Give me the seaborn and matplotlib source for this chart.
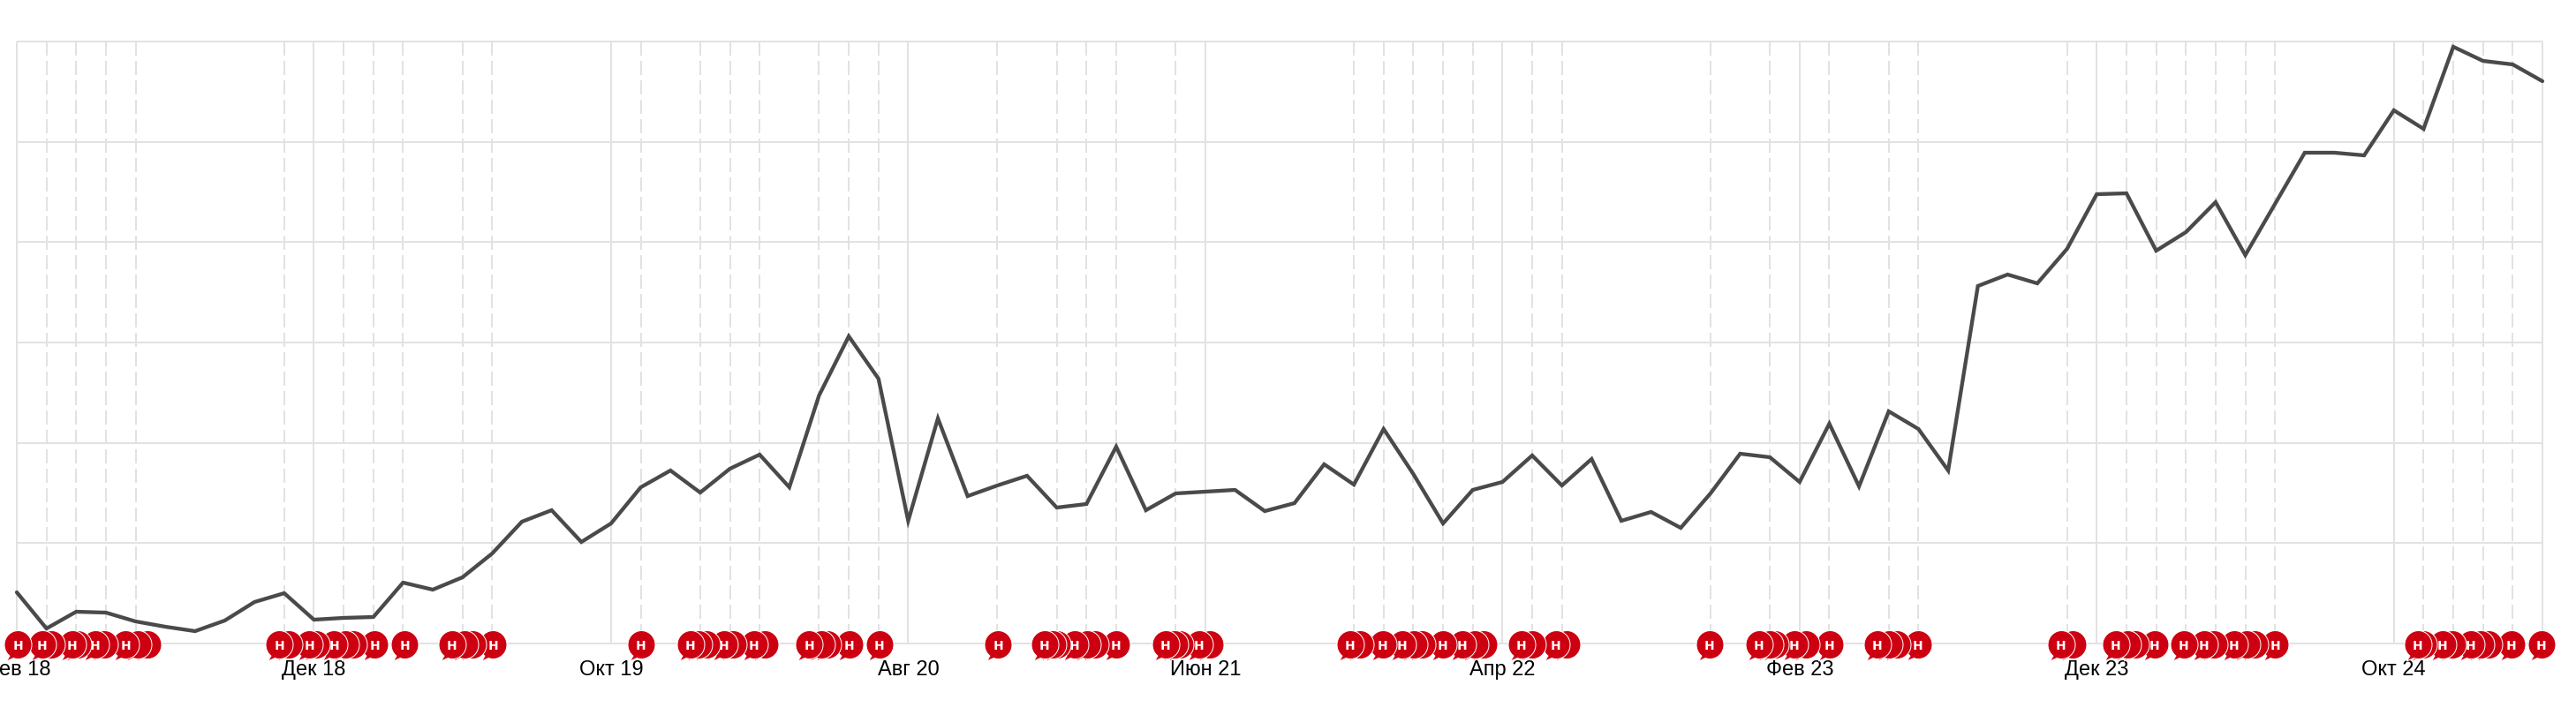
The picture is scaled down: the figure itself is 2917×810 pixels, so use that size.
import numpy as np
import pandas as pd
import matplotlib
matplotlib.use("Agg")
import matplotlib.pyplot as plt
from matplotlib.path import Path
import seaborn as sns

# monthly series (month index 0 = Feb 2018), height above the baseline
series_values = [58, 17, 36, 35, 25, 19, 14, 26, 47, 57, 27, 29, 30, 69, 61, 75, 102, 138, 151, 115,
                 136, 177, 196, 171, 198, 214, 177, 281, 348, 300, 139, 255, 167, 179, 190, 154, 158, 223, 151, 170,
                 172, 174, 150, 159, 203, 180, 243, 192, 136, 174, 183, 213, 179, 209, 139, 149, 131, 170, 215, 211,
                 183, 249, 178, 263, 243, 196, 405, 418, 408, 447, 509, 510, 445, 466, 500, 440, 498, 556, 556, 553,
                 604, 583, 676, 660, 656, 637]
tick_months = [0, 10, 20, 30, 40, 50, 60, 70, 80]
tick_labels = ["Фев 18", "Дек 18", "Окт 19", "Авг 20", "Июн 21", "Апр 22", "Фев 23", "Дек 23", "Окт 24"]
news_months = [1, 2, 3, 4, 9, 11, 12, 13, 15, 16, 21, 23, 24, 25, 27, 28, 29, 33, 35, 36, 37, 39,
               45, 46, 47, 48, 49, 51, 52, 57, 59, 61, 63, 64, 69, 71, 72, 73, 74, 75, 76, 81, 82, 83, 84]
news_positions = [0.03, 0.86, 1.16, 1.87, 2.05, 2.64, 2.94, 3.66, 4.07, 4.40,
                  8.83, 9.15, 9.84, 10.07, 10.67, 11.05, 11.32, 12.04, 13.05, 14.65, 15.07, 15.33, 16.02,
                  21.01, 22.67, 22.94, 23.21, 23.80, 24.10, 24.81, 25.17, 26.66, 27.07, 27.28, 28.02, 29.03,
                  33.02, 34.59, 34.85, 35.00, 35.60, 36.02, 36.29, 37.00, 38.66, 38.96, 39.15, 39.79, 40.15,
                  44.87, 45.20, 45.97, 46.63, 47.01, 47.28, 47.99, 48.65, 49.06, 49.36, 50.64, 51.00, 51.80, 52.15,
                  56.97, 58.63, 58.99, 59.18, 59.82, 60.21, 61.01, 62.62, 63.00, 63.27, 63.98,
                  68.80, 69.18, 70.64, 71.03, 71.29, 71.95, 72.93, 73.61, 73.94, 74.62, 75.04, 75.31, 76.00,
                  80.80, 81.00, 81.63, 81.97, 82.58, 82.91, 83.18, 83.95, 84.96]
news_label = "н"

LINE = "#4a4a4a"
GRID = "#e2e2e2"
RED = "#cc0010"
PX = 72 / 100  # points per pixel at dpi 100

sns.set_theme(style="white")
plt.rcParams["font.family"] = ["Liberation Sans", "DejaVu Sans"]
plt.rcParams["lines.scale_dashes"] = False

W, H = 2917, 810
fig = plt.figure(figsize=(W / 100, H / 100), dpi=100, facecolor="white")
L, R, T, B = 19, 2879, 47, 729
ax = fig.add_axes([L / W, 1 - B / H, (R - L) / W, (B - T) / H])

months = np.arange(len(series_values))
df = pd.DataFrame({"month": months, "value": series_values})
ymax = B - T
ax.set_xlim(0, len(series_values) - 1)
ax.set_ylim(0, ymax)

for y in np.linspace(0, ymax, 7):
    ax.plot([0, months[-1]], [y, y], color=GRID, lw=2 * PX, zorder=1, clip_on=False, solid_capstyle="butt")
for m in tick_months + [0, months[-1]]:
    ax.plot([m, m], [0, ymax], color=GRID, lw=2 * PX, zorder=1, clip_on=False, solid_capstyle="butt")
for m in news_months:
    ax.plot([m, m], [ymax, 0], color=GRID, lw=2 * PX, zorder=1, dash_capstyle="butt", clip_on=False,
            linestyle=(0, (16 * PX, 6 * PX)))

sns.lineplot(data=df, x="month", y="value", color=LINE, linewidth=4.3 * PX, ax=ax, zorder=3, clip_on=False,
             errorbar=None, solid_joinstyle="miter")

# speech-bubble marker with a small tail at the lower left
th = np.radians(np.linspace(-110, 232, 60))
verts = np.column_stack([15.5 * np.cos(th), 16 * np.sin(th)])
verts = np.vstack([verts, [[-13.0, -18.5]], verts[:1]])
bubble = Path(verts, closed=True)
size = (37 * PX) ** 2

base = -1
ordered = sorted(news_positions)
# flags are stacked with the earlier one on top: the label of a flag whose centre is
# covered sits under the flag that covers it, so it stays fully hidden
for i in range(len(ordered) - 1, -1, -1):
    x = ordered[i]
    z = 10 + 2 * (len(ordered) - i)
    covered = i > 0 and x - ordered[i - 1] < 0.45
    ax.scatter([x], [base], marker=bubble, s=size, color=RED, edgecolors="white", linewidths=1.0 * PX,
               zorder=z, clip_on=False)
    ax.annotate(news_label, (ordered[i - 1] if covered else x, base), xytext=(0, -2 * PX),
                textcoords="offset points", ha="center", va="center", color="white", fontsize=14,
                fontweight="bold", zorder=z + 1, annotation_clip=False)

ax.set_xticks(tick_months)
ax.set_xticklabels(tick_labels, fontsize=17, color="black")
ax.tick_params(axis="x", length=0, pad=19 * PX)
ax.set_yticks([])
ax.set_xlabel("")
ax.set_ylabel("")
for s in ax.spines.values():
    s.set_visible(False)
ax.patch.set_alpha(0)

fig.savefig("out.png", dpi=100, facecolor="white")
